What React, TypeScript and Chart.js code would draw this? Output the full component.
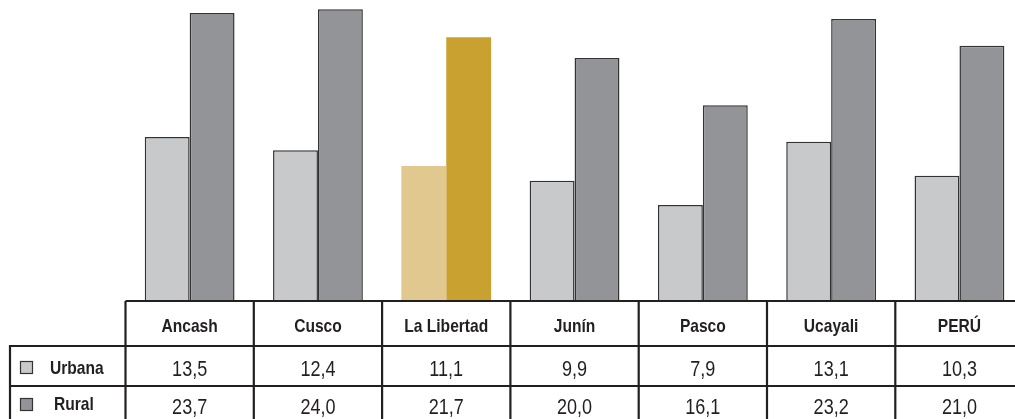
import React, { useEffect, useRef } from "react";
import { Chart, registerables } from "chart.js";

Chart.register(...registerables);

const categories = ["Ancash", "Cusco", "La Libertad", "Junín", "Pasco", "Ucayali", "PERÚ"];
const urbana = [13.5, 12.4, 11.1, 9.9, 7.9, 13.1, 10.3];
const rural = [23.7, 24.0, 21.7, 20.0, 16.1, 23.2, 21.0];
const seriesNames = ["Urbana", "Rural"];

const highlightIndex = 2;
const urbanaColor = "#c8c9cb";
const ruralColor = "#939497";
const urbanaHi = "#e1c88e";
const ruralHi = "#c8a131";
const lineColor = "#231f20";

const CANVAS_W = 1030;
const CANVAS_H = 419;
const AREA_LEFT = 125.5;
const AREA_RIGHT = 1023.6;
const BASELINE = 301;

const fmt = (v: number) => v.toFixed(1).replace(".", ",");

function narrowText(ctx: CanvasRenderingContext2D, text: string, x: number, y: number, font: string, align: "center" | "left") {
  ctx.save();
  ctx.font = font;
  ctx.textBaseline = "middle";
  ctx.textAlign = align;
  ctx.fillStyle = lineColor;
  ctx.translate(x, y);
  ctx.scale(0.82, 1);
  ctx.fillText(text, 0, 0);
  ctx.restore();
}

const tablePlugin = {
  id: "dataTable",
  afterDraw(chart: any) {
    const ctx: CanvasRenderingContext2D = chart.ctx;
    const xs = chart.scales.x;
    const n = categories.length;
    const left = chart.chartArea.left;
    const right = chart.chartArea.right;
    const cw = (right - left) / n;
    const rowH = 346;
    const rowU = 386;
    const bottom = 419;
    ctx.save();
    ctx.strokeStyle = lineColor;
    ctx.lineWidth = 2.2;
    ctx.beginPath();
    ctx.moveTo(left, BASELINE);
    ctx.lineTo(right, BASELINE);
    ctx.moveTo(10, rowH);
    ctx.lineTo(right, rowH);
    ctx.moveTo(10, rowU);
    ctx.lineTo(right, rowU);
    for (let i = 0; i <= n; i++) {
      const x = left + i * cw;
      ctx.moveTo(x, BASELINE);
      ctx.lineTo(x, bottom + 2);
    }
    ctx.moveTo(10, rowH - 1);
    ctx.lineTo(10, bottom + 2);
    ctx.stroke();

    ctx.lineWidth = 1.2;
    ctx.strokeStyle = "#333";
    ctx.fillStyle = urbanaColor;
    ctx.fillRect(20.5, 361.5, 12, 12);
    ctx.strokeRect(20.5, 361.5, 12, 12);
    ctx.fillStyle = ruralColor;
    ctx.fillRect(20.5, 398.5, 12, 12);
    ctx.strokeRect(20.5, 398.5, 12, 12);
    ctx.restore();

    const boldFont = "bold 19px 'Liberation Sans', Arial, sans-serif";
    const regFont = "22px 'Liberation Sans', Arial, sans-serif";
    narrowText(ctx, seriesNames[0], 50, 369, boldFont, "left");
    narrowText(ctx, seriesNames[1], 54, 405, boldFont, "left");
    for (let i = 0; i < n; i++) {
      const cx = xs.getPixelForValue(i);
      narrowText(ctx, categories[i], cx, 327, boldFont, "center");
      narrowText(ctx, fmt(urbana[i]), cx, 370, regFont, "center");
      narrowText(ctx, fmt(rural[i]), cx, 408, regFont, "center");
    }
  },
};

export default function App() {
  const ref = useRef<HTMLCanvasElement | null>(null);
  useEffect(() => {
    const canvas = ref.current!;
    const chart = new Chart(canvas, {
      type: "bar",
      data: {
        labels: categories,
        datasets: [
          {
            label: seriesNames[0],
            data: urbana,
            backgroundColor: urbana.map((_, i) => (i === highlightIndex ? urbanaHi : urbanaColor)),
            borderColor: urbana.map((_, i) => (i === highlightIndex ? urbanaHi : "#333333")),
            borderWidth: urbana.map((_, i) => (i === highlightIndex ? 0 : 1.5)),
            borderSkipped: "bottom",
            categoryPercentage: 0.7,
            barPercentage: 1,
          },
          {
            label: seriesNames[1],
            data: rural,
            backgroundColor: rural.map((_, i) => (i === highlightIndex ? ruralHi : ruralColor)),
            borderColor: rural.map((_, i) => (i === highlightIndex ? ruralHi : "#333333")),
            borderWidth: rural.map((_, i) => (i === highlightIndex ? 0 : 1.5)),
            borderSkipped: "bottom",
            categoryPercentage: 0.7,
            barPercentage: 1,
          },
        ],
      },
      options: {
        responsive: false,
        animation: false,
        devicePixelRatio: 1,
        layout: {
          padding: { left: AREA_LEFT, right: CANVAS_W - AREA_RIGHT, top: 0, bottom: CANVAS_H - BASELINE },
        },
        plugins: { legend: { display: false }, tooltip: { enabled: false } },
        scales: {
          x: { display: false, grid: { display: false } },
          y: { display: false, min: 0, max: 24.77, grid: { display: false } },
        },
      },
      plugins: [tablePlugin],
    } as any);
    return () => chart.destroy();
  }, []);
  return (
    <div style={{ position: "absolute", left: 0, top: 0, width: 1015, height: 419, overflow: "hidden", background: "#fff" }}>
      <canvas ref={ref} width={CANVAS_W} height={CANVAS_H} style={{ width: CANVAS_W, height: CANVAS_H, display: "block" }} />
    </div>
  );
}
